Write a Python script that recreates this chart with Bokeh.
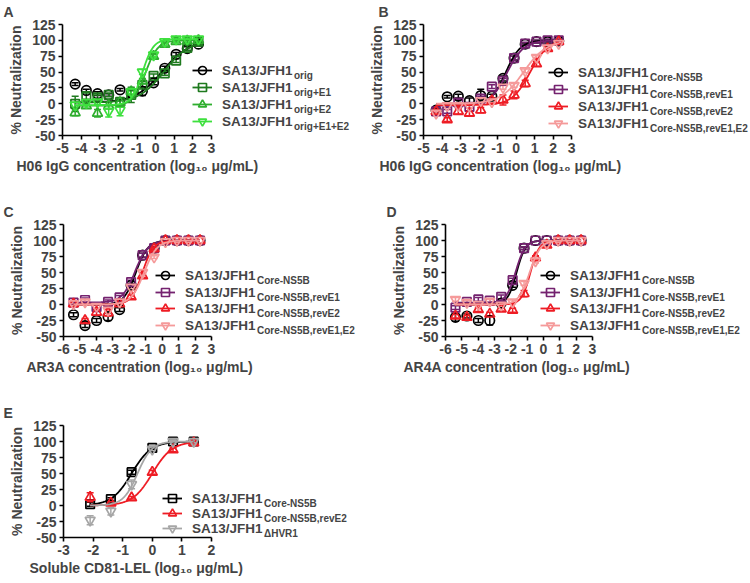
import numpy as np
from bokeh.plotting import figure
from bokeh.layouts import column, row
from bokeh.models import (Range1d, FixedTicker, Label, Legend, LegendItem, Whisker, TeeHead,
                          ColumnDataSource, Title)
from bokeh.embed import file_html
from bokeh.resources import INLINE

FONT = "Liberation Sans"

# ---------------- data ----------------
# Panel A / B: H06 IgG, log10 ug/mL
ab_logc = [2.30, 1.70, 1.10, 0.49, -0.11, -0.71, -1.31, -1.91, -2.52, -3.12, -3.72, -4.32]
a_orig = [94, 87, 78, 56, 33, 20, 17, 22, 14, 16, 21, 31]
a_orig_err = [3, 3, 3, 3, 3, 7, 5, 2, 2, 3, 2, 2]
a_e1 = [98, 88, 68, 48, 44, 30, 14, 3, 14, 10, 12, 0]
a_e1_err = [4, 4, 3, 3, 3, 5, 12, 6, 3, 4, 5, 12]
a_e2 = [100, 99, 98, 94, 75, 36, 19, 2, -3, -15, -3, -14]
a_e2_err = [2, 2, 2, 3, 3, 4, 6, 5, 5, 6, 4, 5]
a_e1e2 = [102, 102, 102, 98, 77, 50, 19, -10, -12, 3, 2, -2]
a_e1e2_err = [2, 2, 2, 2, 3, 4, 4, 9, 9, 4, 4, 4]

b_core = [99, 98, 98, 94, 72, 40, 12, 13, 5, 12, 11, -10]
b_core_err = [2, 2, 2, 2, 3, 4, 3, 10, 4, 3, 2, 3]
b_reve1 = [100, 100, 98, 95, 72, 36, 27, 8, -5, 2, -12, -12]
b_reve1_err = [2, 2, 2, 2, 3, 4, 3, 4, 6, 5, 3, 3]
b_reve2 = [98, 87, 63, 32, 14, 6, 5, -10, -15, -12, -25, -12]
b_reve2_err = [2, 3, 4, 5, 6, 8, 4, 4, 4, 4, 3, 3]
b_reve1e2 = [95, 88, 73, 52, 29, 26, 3, 5, -4, -3, -3, -15]
b_reve1e2_err = [2, 2, 3, 3, 3, 3, 3, 3, 3, 3, 3, 3]

# Panel C / D: AR3A / AR4A, log10 ug/mL
cd_logc = [2.30, 1.60, 0.90, 0.20, -0.49, -1.19, -1.89, -2.59, -3.29, -3.99, -4.69, -5.39]
c_core = [100, 100, 100, 100, 88, 77, 30, -8, -19, -25, -33, -16]
c_core_err = [0, 0, 0, 0, 2, 3, 3, 3, 6, 3, 3, 3]
c_reve1 = [100, 100, 100, 100, 88, 77, 35, 11, 4, -4, 7, 3]
c_reve1_err = [0, 0, 0, 0, 2, 3, 3, 3, 3, 3, 3, 3]
c_reve2 = [100, 100, 100, 100, 87, 45, 12, 1, -13, -12, -25, 1]
c_reve2_err = [0, 0, 0, 0, 2, 3, 3, 3, 5, 5, 3, 3]
c_reve1e2 = [100, 100, 100, 98, 74, 50, 27, 4, -9, -3, 4, 1]
c_reve1e2_err = [0, 0, 0, 0, 2, 3, 3, 3, 3, 3, 3, 3]

d_core = [100, 100, 100, 100, 100, 88, 30, 2, -25, -25, -18, -20]
d_core_err = [0, 0, 0, 0, 0, 2, 3, 3, 7, 3, 3, 6]
d_reve1 = [100, 100, 100, 100, 100, 88, 38, 12, 6, 8, 4, -5]
d_reve1_err = [0, 0, 0, 0, 0, 2, 3, 3, 3, 3, 3, 3]
d_reve2 = [100, 100, 100, 93, 73, 17, -9, -7, -15, -8, -20, -18]
d_reve2_err = [0, 0, 0, 2, 3, 5, 3, 3, 3, 3, 3, 3]
d_reve1e2 = [100, 100, 100, 95, 68, 33, 4, -1, 5, 0, 3, 8]
d_reve1e2_err = [0, 0, 0, 2, 3, 3, 3, 3, 3, 3, 3, 3]

# Panel E: soluble CD81-LEL, log10 ug/mL
e_logc = [1.40, 0.70, 0.00, -0.70, -1.40, -2.10]
e_core = [100, 100, 90, 52, 10, 2]
e_core_err = [2, 2, 2, 3, 2, 3]
e_reve2 = [98, 87, 52, 12, 4, 13]
e_reve2_err = [2, 3, 3, 2, 2, 7]
e_dhvr1 = [100, 100, 88, 33, -9, -23]
e_dhvr1_err = [2, 2, 3, 7, 6, 7]

# fitted 4-parameter logistic curves: (bottom, top, logEC50, hill slope)
a_fits = [(2, 100, 0.35, 0.6), (2, 100, 0.45, 0.65), (-3, 100, -0.55, 1.3), (-2, 102, -0.7, 1.5)]
b_fits = [(0, 100, -0.55, 1.1), (-3, 100, -0.5, 0.95), (-2, 101, 0.75, 0.9), (0, 100, 0.4, 0.7)]
c_fits = [(0, 100, -1.6, 1.2), (3, 100, -1.65, 1.1), (0, 100, -1.2, 1.3), (0, 100, -1.1, 1.1)]
d_fits = [(0, 100, -1.65, 1.6), (3, 100, -1.7, 1.5), (0, 100, -0.8, 1.6), (0, 100, -0.85, 1.3)]
e_fits = [(0, 100, -0.7, 1.3), (0, 100, 0.0, 1.3), (0, 100, -0.5, 1.8)]

y_ticks = [-50, -25, 0, 25, 50, 75, 100, 125]
x_ticks_ab = [-5, -4, -3, -2, -1, 0, 1, 2, 3]
x_ticks_cd = [-6, -5, -4, -3, -2, -1, 0, 1, 2, 3]
x_ticks_e = [-3, -2, -1, 0, 1, 2]

subs_a = ["orig", "orig+E1", "orig+E2", "orig+E1+E2"]
subs_bcd = ["Core-NS5B", "Core-NS5B,revE1", "Core-NS5B,revE2", "Core-NS5B,revE1,E2"]
subs_e = ["Core-NS5B", "Core-NS5B,revE2", "\u0394HVR1"]

BLACK = "#000000"
colors_a = [BLACK, "#1f7a1f", "#2fae2f", "#3ee03e"]
colors_bcd = [BLACK, "#74226f", "#ee1c24", "#f59a9a"]
colors_e = [BLACK, "#ee1c24", "#a6a6a6"]
markers4 = ["circle", "square", "triangle", "inverted_triangle"]
markers_e = ["square", "triangle", "inverted_triangle"]
msize = {"circle": 9.5, "square": 8.5, "triangle": 10, "inverted_triangle": 10}

MAIN_W = 70.5  # width of "SA13/JFH1" at 13.5px bold


def curve(xs, fit):
    bottom, top, logec50, hill = fit
    xf = np.linspace(min(xs), max(xs), 200)
    return xf, bottom + (top - bottom) / (1 + 10 ** ((logec50 - xf) * hill))


def tick_text(v):
    return ("-" if v < 0 else "") + str(abs(v))


def build(geom, xdom, xticks, xlabel, letter_x, letter, xs, ys, errs, fits, colors, markers, subs, leg):
    fx, fy, fw, fh = geom["fig"]
    l, t, r, b = geom["frame"]
    px_lo, px_hi = geom["xpix"]
    xlo, xhi = xdom
    scale = (px_hi - px_lo) / (xhi - xlo)
    x_end = xhi + (r - px_hi) / scale
    p = figure(width=fw, height=fh, x_range=Range1d(xlo, x_end), y_range=Range1d(-50, 125),
               min_border_left=l - fx, min_border_right=fx + fw - r,
               min_border_top=t - fy, min_border_bottom=fy + fh - b,
               output_backend="svg", toolbar_location=None)
    p.outline_line_color = None
    p.xgrid.visible = False
    p.ygrid.visible = False
    for ax in (p.xaxis[0], p.yaxis[0]):
        ax.axis_line_width = 1.6
        ax.major_tick_line_width = 1.6
        ax.major_tick_out = 4
        ax.major_tick_in = 0
        ax.minor_tick_line_color = None
        ax.major_label_text_font = FONT
        ax.major_label_text_font_style = "bold"
        ax.major_label_text_font_size = "14px"
        ax.major_label_standoff = 3
        ax.axis_label_text_font = FONT
        ax.axis_label_text_font_style = "bold"
        ax.axis_label_text_font_size = "14px"
    p.yaxis.ticker = FixedTicker(ticks=y_ticks)
    p.yaxis.major_label_overrides = {v: tick_text(v) for v in y_ticks}
    p.xaxis.ticker = FixedTicker(ticks=xticks)
    p.xaxis.major_label_overrides = {v: tick_text(v) for v in xticks}
    p.xaxis.bounds = (xlo, xhi)
    p.yaxis.axis_label = "% Neutralization"
    p.yaxis.axis_label_standoff = 5

    # x-axis title, centred under the axis (not under the whole frame, which also holds the legend)
    p.add_layout(Title(text=xlabel, align="left", offset=geom["xtitle_left"] - l,
                       text_font=FONT, text_font_style="bold", text_font_size="14px",
                       vertical_align="top", standoff=5), "below")

    p.title.text = letter
    p.title.align = "left"
    p.title.offset = letter_x - l
    p.title.text_font = FONT
    p.title.text_font_style = "bold"
    p.title.text_font_size = "14px"
    p.title.vertical_align = "top"
    p.title.standoff = 6

    def sx(px):
        return px - l

    def sy(py):
        return b - py

    for i in range(len(ys)):
        c = colors[i]
        xf, yf = curve(xs, fits[i])
        lr = p.line(xf, yf, line_color=c, line_width=1.8)
        keep = [k for k in range(len(xs)) if errs[i][k] > 0]
        src = ColumnDataSource(dict(x=[xs[k] for k in keep],
                                    upper=[ys[i][k] + errs[i][k] for k in keep],
                                    lower=[ys[i][k] - errs[i][k] for k in keep]))
        p.add_layout(Whisker(source=src, base="x", upper="upper", lower="lower",
                             line_color=c, line_width=1.5,
                             upper_head=TeeHead(size=7, line_color=c, line_width=1.5),
                             lower_head=TeeHead(size=7, line_color=c, line_width=1.5)))
        sr = p.scatter(xs, ys[i], marker=markers[i], size=msize[markers[i]], line_color=c,
                       fill_alpha=0, line_width=1.7)
        cy = leg["rows"][i]
        text_x = leg["text_x"]
        lg = Legend(items=[LegendItem(label="SA13/JFH1", renderers=[lr, sr])],
                    location=(sx(text_x - 30), sy(cy + 10)),
                    padding=0, margin=0, spacing=0, glyph_width=20, glyph_height=20,
                    label_height=20, label_standoff=10,
                    label_text_font=FONT, label_text_font_style="bold",
                    label_text_font_size="13.5px",
                    background_fill_alpha=0, border_line_alpha=0)
        p.add_layout(lg)
        p.add_layout(Label(x=sx(text_x + MAIN_W + 1), y=sy(cy + 5), x_units="screen", y_units="screen",
                           text=subs[i], text_font=FONT, text_font_style="bold",
                           text_font_size="10px", text_baseline="middle", text_align="left"))
    return p


pA = build({"fig": (0, 0, 366, 200), "frame": (62, 23, 366, 135), "xpix": (62, 211), "xtitle_left": 16},
           (-5, 3), x_ticks_ab, "H06 IgG concentration (log\u2081\u2080 \u03bcg/mL)", 3, "A",
           ab_logc, [a_orig, a_e1, a_e2, a_e1e2], [a_orig_err, a_e1_err, a_e2_err, a_e1e2_err],
           a_fits, colors_a, markers4, subs_a, {"rows": [70, 87, 104, 121], "text_x": 222})
pB = build({"fig": (366, 0, 384, 200), "frame": (419, 23, 750, 135), "xpix": (419, 569), "xtitle_left": 375},
           (-5, 3), x_ticks_ab, "H06 IgG concentration (log\u2081\u2080 \u03bcg/mL)", 374, "B",
           ab_logc, [b_core, b_reve1, b_reve2, b_reve1e2], [b_core_err, b_reve1_err, b_reve2_err, b_reve1e2_err],
           b_fits, colors_bcd, markers4, subs_bcd, {"rows": [72, 89, 106, 123], "text_x": 574})
pC = build({"fig": (0, 200, 380, 200), "frame": (63, 224, 380, 336), "xpix": (63, 211), "xtitle_left": 26},
           (-6, 3), x_ticks_cd, "AR3A concentration (log\u2081\u2080 \u03bcg/mL)", 3, "C",
           cd_logc, [c_core, c_reve1, c_reve2, c_reve1e2], [c_core_err, c_reve1_err, c_reve2_err, c_reve1e2_err],
           c_fits, colors_bcd, markers4, subs_bcd, {"rows": [275, 292, 308, 325], "text_x": 185})
pD = build({"fig": (380, 200, 370, 200), "frame": (445, 224, 750, 336), "xpix": (445, 592), "xtitle_left": 403},
           (-6, 3), x_ticks_cd, "AR4A concentration (log\u2081\u2080 \u03bcg/mL)", 386, "D",
           cd_logc, [d_core, d_reve1, d_reve2, d_reve1e2], [d_core_err, d_reve1_err, d_reve2_err, d_reve1e2_err],
           d_fits, colors_bcd, markers4, subs_bcd, {"rows": [275, 292, 308, 325], "text_x": 570})
pE = build({"fig": (0, 400, 380, 183), "frame": (63, 425, 380, 537), "xpix": (63, 211), "xtitle_left": 29},
           (-3, 2), x_ticks_e, "Soluble CD81-LEL (log\u2081\u2080 \u03bcg/mL)", 3, "E",
           e_logc, [e_core, e_reve2, e_dhvr1], [e_core_err, e_reve2_err, e_dhvr1_err],
           e_fits, colors_e, markers_e, subs_e, {"rows": [498, 513, 528], "text_x": 192})

layout = column(row(pA, pB), row(pC, pD), pE)
open("out.html", "w").write(file_html(layout, INLINE, title="Neutralization"))
